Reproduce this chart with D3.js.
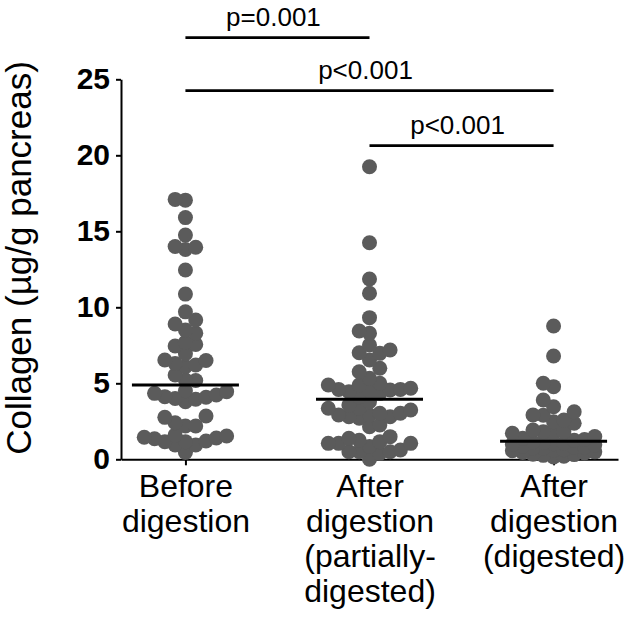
<!DOCTYPE html>
<html>
<head>
<meta charset="utf-8">
<script src="https://cdn.jsdelivr.net/npm/d3@7"></script>
<style>
  body { margin: 0; background: #fff; }
  text { font-family: "Liberation Sans", Arial, Helvetica, sans-serif; }
</style>
</head>
<body>
<div id="chart"></div>
<script>
// nhóm và nhãn trục x
const groups = ["before", "partial", "digested"];
const groupLabels = [
    ["Before", "digestion"],
    ["After", "digestion", "(partially-", "digested)"],
    ["After", "digestion", "(digested)"]
];

// giá trị (µg/g)
const beforeValues = [17.1, 17.05, 15.9, 14.75, 14.0, 13.8, 13.95, 12.45, 10.87, 9.7,
    9.16, 8.9, 8.5, 8.3, 7.7, 7.56, 7.45, 6.95, 6.5, 6.53, 6.1, 6.2, 6.3, 5.55, 5.22, 5.18,
    4.0, 4.08, 4.45, 4.23, 4.12, 3.79, 3.95, 4.34, 4.51,
    2.76, 2.85, 2.19, 2.19, 2.4,
    1.16, 1.53, 1.4, 1.45, 1.6, 1.35, 0.94, 1.16, 0.94, 1.2, 0.45];
const partialValues = [19.25, 14.25, 11.86, 10.92, 9.32, 8.44, 8.29, 7.52, 7.19, 6.53, 6.97, 7.01,
    5.99, 5.76, 5.33,
    4.6, 4.34, 4.67, 4.89, 5.0, 4.89, 4.6, 4.56, 4.45, 4.51, 4.12,
    3.03, 3.36, 3.57, 3.79, 2.8, 2.7, 2.8, 2.91, 3.03, 2.91, 3.36, 3.24, 2.14, 2.26,
    1.05, 1.38, 0.39, 1.05, 0.5, 1.05, 1.49, 0.61, 0.5, 0.5, 1.16, 0.0, 0.85, 1.25];
const digestedValues = [8.77, 6.8, 5.0, 4.78, 3.9, 3.46, 3.13, 2.91, 2.9, 2.59, 2.47, 2.37,
    1.93, 1.82, 1.82, 1.71, 1.71, 1.5, 1.38, 1.3, 1.25,
    1.14, 1.1, 1.06, 1.02, 0.97, 0.95, 0.88, 0.82, 0.8, 0.74, 0.71, 0.63, 0.6, 0.56,
    0.49, 0.45, 0.41, 0.33, 0.31, 0.26, 0.2, 0.15];
const seriesValues = [beforeValues, partialValues, digestedValues];

// đường ngang (trung vị) mỗi nhóm
const medians = [4.89, 3.95, 1.18];

// trục y
const yTicks = [0, 5, 10, 15, 20, 25];

// so sánh p
const comparisons = [
    { from: 0, to: 1, label: "p=0.001" },
    { from: 0, to: 2, label: "p<0.001" },
    { from: 1, to: 2, label: "p<0.001" }
];

const width = 629, height = 618;

const svg = d3.select("#chart").append("svg")
    .attr("width", width)
    .attr("height", height);

const y = d3.scaleLinear().domain([0, 25]).range([459.3, 79.3]);
const x = d3.scalePoint().domain(groups).range([121, 618]).padding(0.35);

// Trục Y
const yAxis = svg.append("g")
    .attr("transform", "translate(121,0)")
    .call(d3.axisLeft(y).tickValues(yTicks).tickSize(5).tickSizeOuter(0).tickPadding(6));
yAxis.select(".domain").attr("stroke-width", 2);
yAxis.selectAll(".tick line").attr("stroke-width", 2);
yAxis.selectAll(".tick text")
    .style("font-size", "30px")
    .style("font-weight", "bold")
    .attr("fill", "#000");

// Trục X
const xAxis = svg.append("g")
    .attr("transform", `translate(0,${y(0)})`)
    .call(d3.axisBottom(x).tickSize(6).tickSizeOuter(0));
xAxis.select(".domain").attr("stroke-width", 2);
xAxis.selectAll(".tick line").attr("stroke-width", 2);
xAxis.selectAll(".tick text").remove();
xAxis.selectAll(".tick").each(function (d, i) {
    const t = d3.select(this).append("text")
        .attr("fill", "#000")
        .attr("text-anchor", "middle")
        .style("font-size", "32px");
    groupLabels[i].forEach((line, j) => {
        t.append("tspan").attr("x", 0).attr("y", 38 + j * 35).text(line);
    });
});

// nhãn trục y
svg.append("text")
    .attr("transform", "translate(31,258) rotate(-90)")
    .attr("text-anchor", "middle")
    .style("font-size", "35px")
    .attr("fill", "#000")
    .text("Collagen (µg/g pancreas)");

// xếp chấm kiểu Prism: lưới ngang, chồng lấn một phần, giới hạn bề rộng
function swarm(values, cx) {
    const step = 10.3, minDist = 10.3, maxSlots = 4;
    const placed = [];
    const pts = values.map(v => ({ v: v, y: y(v) })).sort((a, b) => a.v - b.v);
    const nearest = (px, py) => d3.min(placed, q => Math.hypot(q.x - px, q.y - py)) ?? Infinity;
    pts.forEach((p, i) => {
        let best = null, bestD = -1;
        for (let k = 0; k <= maxSlots && best === null; k++) {
            const offs = k === 0 ? [0] : (i % 2 ? [k * step, -k * step] : [-k * step, k * step]);
            for (const o of offs) {
                const dd = nearest(cx + o, p.y);
                if (dd >= minDist - 0.01) { best = o; break; }
                if (dd > bestD + 0.5) { bestD = dd; p.fallback = o; }
            }
        }
        p.x = cx + (best !== null ? best : p.fallback);
        placed.push(p);
    });
    return placed;
}

groups.forEach((g, i) => {
    const pts = swarm(seriesValues[i], x(g));
    svg.append("g").selectAll("circle")
        .data(pts)
        .enter()
        .append("circle")
        .attr("cx", d => d.x)
        .attr("cy", d => d.y)
        .attr("r", 7.5)
        .attr("fill", "#5b5b5b");
});

// đường trung vị
svg.append("g").selectAll("line")
    .data(medians)
    .enter()
    .append("line")
    .attr("x1", (d, i) => x(groups[i]) - 53.5)
    .attr("x2", (d, i) => x(groups[i]) + 53.5)
    .attr("y1", d => y(d))
    .attr("y2", d => y(d))
    .attr("stroke", "#000")
    .attr("stroke-width", 3);

// thanh so sánh
const barY = [37.7, 90.7, 145.7];
comparisons.forEach((c, i) => {
    const x1 = x(groups[c.from]), x2 = x(groups[c.to]);
    svg.append("line")
        .attr("x1", x1).attr("x2", x2)
        .attr("y1", barY[i]).attr("y2", barY[i])
        .attr("stroke", "#000")
        .attr("stroke-width", 2.7);
    svg.append("text")
        .attr("x", (x1 + x2) / 2 - 4)
        .attr("y", barY[i] - 12)
        .attr("text-anchor", "middle")
        .style("font-size", "26px")
        .attr("fill", "#000")
        .text(c.label);
});
</script>
</body>
</html>
